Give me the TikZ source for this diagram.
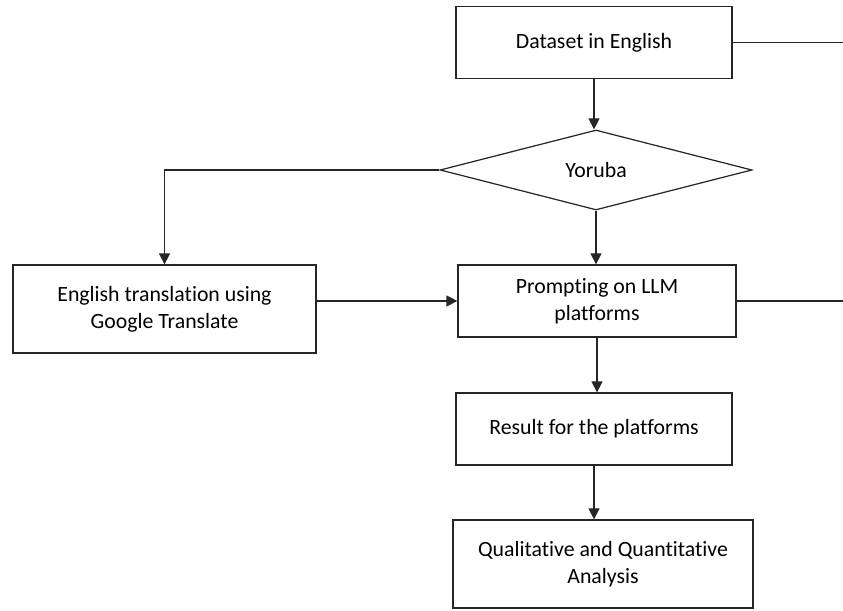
\documentclass[tikz,border=0pt]{standalone}
\usepackage{fontspec}
\setmainfont[Ligatures={NoCommon}]{Carlito}
\usetikzlibrary{shapes.geometric,arrows.meta}
\tikzset{
  >={Triangle[length=2.2mm,width=2.2mm]},
  every picture/.style={line width=0.7pt, black!85},
  stepbox/.style={draw, rectangle, align=center, minimum width=5.52cm, minimum height=1.44cm,
    font=\fontsize{12.4}{15.5}\selectfont, text=black},
  choice/.style={draw, diamond, aspect=3.9, inner sep=0pt, minimum width=6.24cm, minimum height=1.6cm,
    font=\fontsize{12.4}{15.5}\selectfont, text=black}
}
\begin{document}
\begin{tikzpicture}
    \useasboundingbox (0,0) rectangle (16.86,12.22);
    \coordinate (rim) at (16.86,0);
    % boxes
    \node[stepbox] (data) at (11.88,11.37) {Dataset in English};
    \node[choice] (yoruba) at (11.92,8.82) {Yoruba};
    \node[stepbox, minimum width=6.06cm, minimum height=1.76cm] (google) at (3.29,6.04) {English translation using\\Google Translate};
    \node[stepbox, minimum width=5.56cm] (prompt) at (11.94,6.2) {Prompting on LLM\\platforms};
    \node[stepbox] (result) at (11.88,3.64) {Result for the platforms};
    \node[stepbox, minimum width=6cm, minimum height=1.76cm] (analysis) at (12.06,0.94) {Qualitative and Quantitative\\Analysis};
    % connectors
    \draw (data.east) -- (data.east -| rim);
    \draw (prompt.east) -- (prompt.east -| rim);
    \draw[->] (data.south) -- (data.south |- yoruba.north);
    \draw[->] (yoruba.west) -| (google.north);
    \draw[->] (yoruba.south) -- (yoruba.south |- prompt.north);
    \draw[->] (google.east |- prompt.west) -- (prompt.west);
    \draw[->] (prompt.south) -- (prompt.south |- result.north);
    \draw[->] (result.south) -- (result.south |- analysis.north);
  \end{tikzpicture}
\end{document}
